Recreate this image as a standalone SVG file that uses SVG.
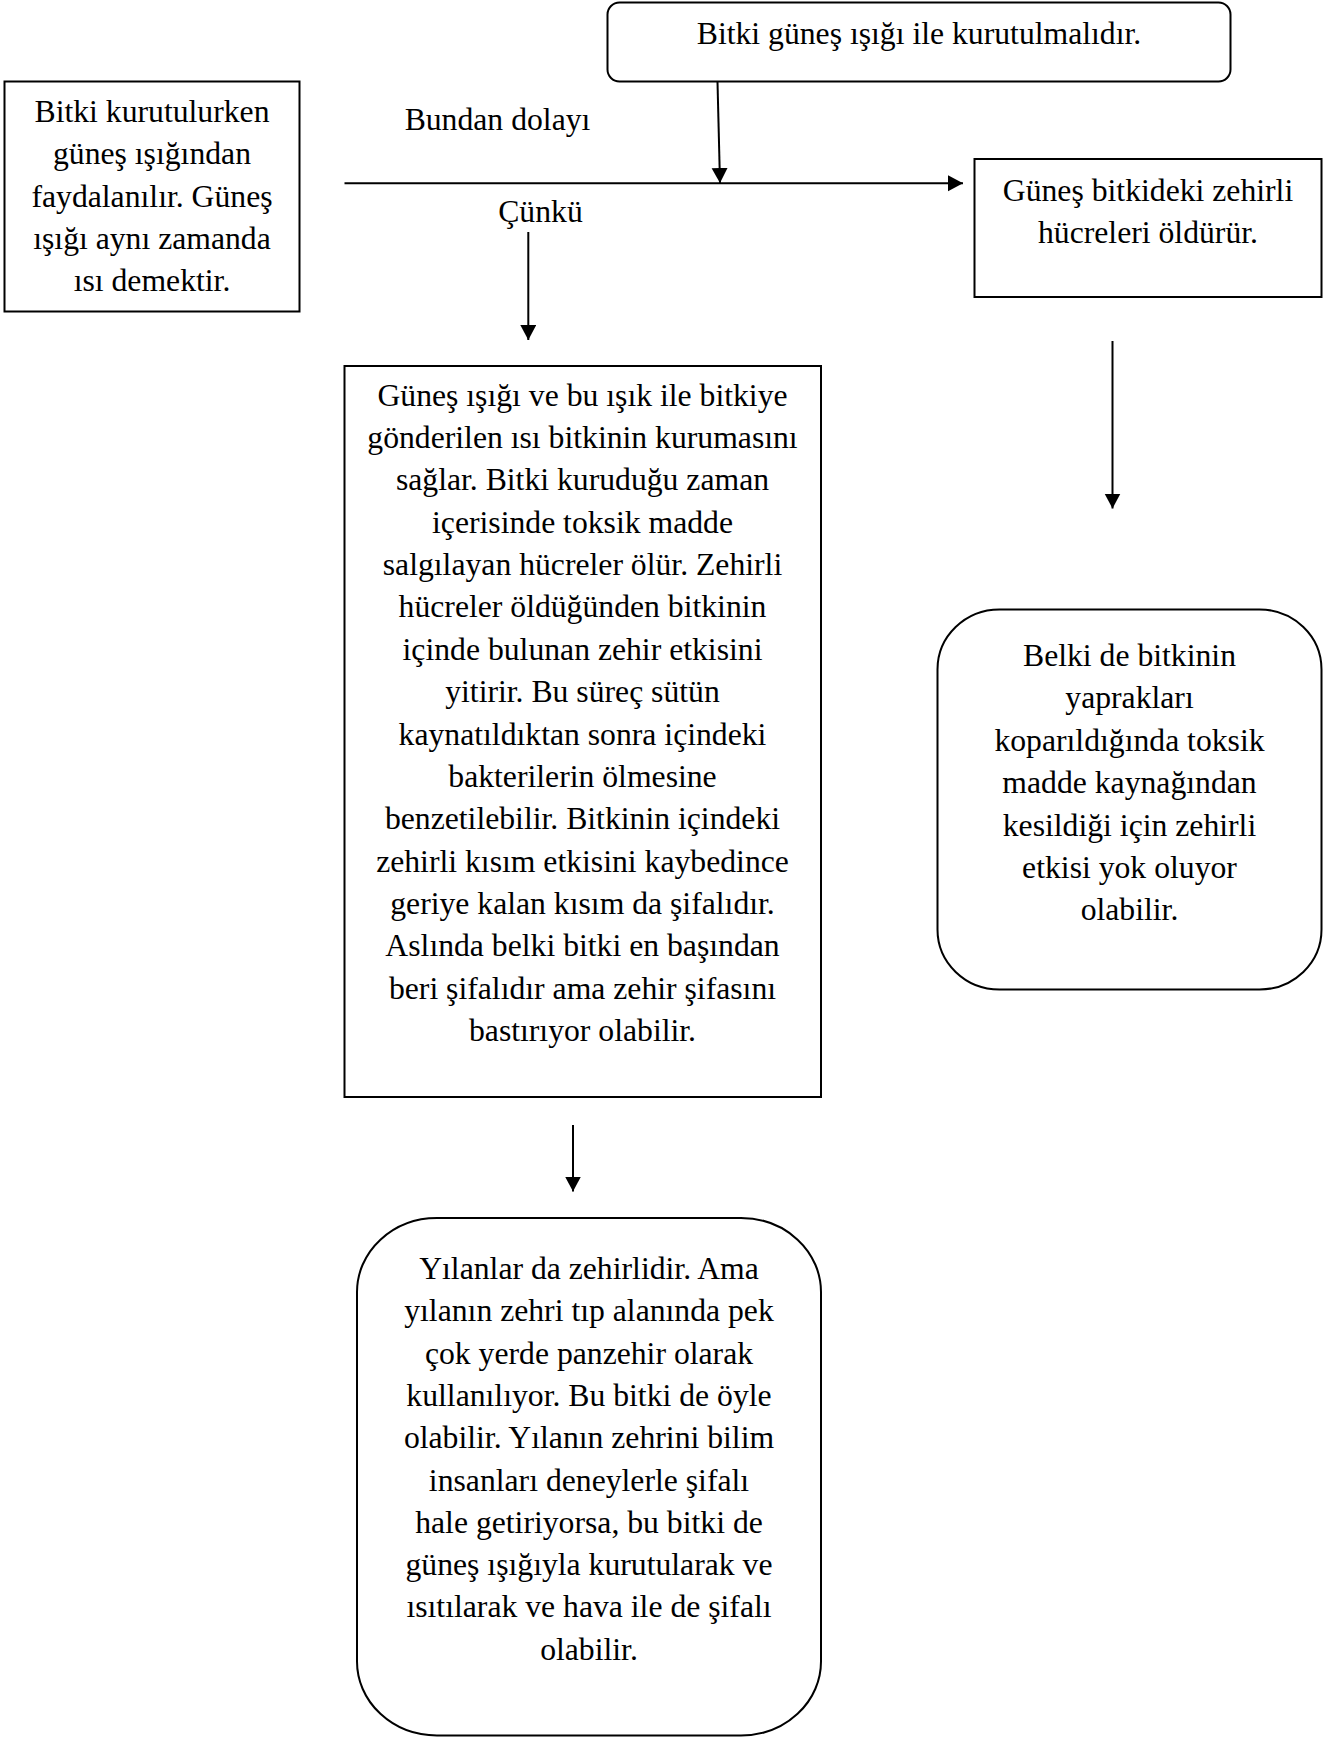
<svg xmlns="http://www.w3.org/2000/svg" width="1337" height="1737" viewBox="0 0 1337 1737">
  <style>
    .box { fill: #ffffff; stroke: #000000; stroke-width: 2; }
    .edge { fill: none; stroke: #000000; stroke-width: 2; }
    text { font-family: "Liberation Serif", "Times New Roman", serif; font-size: 31.7px; fill: #000000; text-anchor: middle; }
  </style>
  <defs>
    <marker id="arrow" markerUnits="userSpaceOnUse" markerWidth="17" markerHeight="17" refX="15" refY="8" orient="auto">
      <path d="M0,0 L15,8 L0,16 Z" fill="#000000"/>
    </marker>
  </defs>
  <rect width="1337" height="1737" fill="#ffffff"/>

  <!-- connectors -->
  <g id="connectors">
    <line class="edge" x1="344.5" y1="183.3" x2="963" y2="183.3" marker-end="url(#arrow)"/>
    <line class="edge" x1="717.5" y1="82" x2="720" y2="183" marker-end="url(#arrow)"/>
    <line class="edge" x1="528.3" y1="232" x2="528.3" y2="340" marker-end="url(#arrow)"/>
    <line class="edge" x1="1112.5" y1="341" x2="1112.5" y2="508.5" marker-end="url(#arrow)"/>
    <line class="edge" x1="573" y1="1125" x2="573" y2="1191.5" marker-end="url(#arrow)"/>
  </g>

  <!-- edge labels -->
  <g id="labels">
    <text x="497.5" y="130">Bundan dolayı</text>
    <text x="540.5" y="222">Çünkü</text>
  </g>

  <!-- left box: premise -->
  <g id="node-premise">
    <rect class="box" x="4.5" y="81.5" width="295" height="230"/>
    <text x="152" y="122">Bitki kurutulurken</text>
    <text x="152" y="164.3">güneş ışığından</text>
    <text x="152" y="206.6">faydalanılır. Güneş</text>
    <text x="152" y="248.9">ışığı aynı zamanda</text>
    <text x="152" y="291.2">ısı demektir.</text>
  </g>

  <!-- top box: conclusion -->
  <g id="node-conclusion">
    <rect class="box" x="607.5" y="2.5" width="623" height="79" rx="12" ry="12"/>
    <text x="919" y="43.5">Bitki güneş ışığı ile kurutulmalıdır.</text>
  </g>

  <!-- right box: effect -->
  <g id="node-effect">
    <rect class="box" x="974.5" y="159" width="347" height="138"/>
    <text x="1148" y="200.5">Güneş bitkideki zehirli</text>
    <text x="1148" y="242.8">hücreleri öldürür.</text>
  </g>

  <!-- middle box: reason -->
  <g id="node-reason">
    <rect class="box" x="344.5" y="366" width="476.5" height="731"/>
    <text x="582.5" y="405.7">Güneş ışığı ve bu ışık ile bitkiye</text>
    <text x="582.5" y="448.05">gönderilen ısı bitkinin kurumasını</text>
    <text x="582.5" y="490.4">sağlar. Bitki kuruduğu zaman</text>
    <text x="582.5" y="532.75">içerisinde toksik madde</text>
    <text x="582.5" y="575.1">salgılayan hücreler ölür. Zehirli</text>
    <text x="582.5" y="617.45">hücreler öldüğünden bitkinin</text>
    <text x="582.5" y="659.8">içinde bulunan zehir etkisini</text>
    <text x="582.5" y="702.15">yitirir. Bu süreç sütün</text>
    <text x="582.5" y="744.5">kaynatıldıktan sonra içindeki</text>
    <text x="582.5" y="786.85">bakterilerin ölmesine</text>
    <text x="582.5" y="829.2">benzetilebilir. Bitkinin içindeki</text>
    <text x="582.5" y="871.55">zehirli kısım etkisini kaybedince</text>
    <text x="582.5" y="913.9">geriye kalan kısım da şifalıdır.</text>
    <text x="582.5" y="956.25">Aslında belki bitki en başından</text>
    <text x="582.5" y="998.6">beri şifalıdır ama zehir şifasını</text>
    <text x="582.5" y="1040.95">bastırıyor olabilir.</text>
  </g>

  <!-- right rounded box: alternative idea -->
  <g id="node-alternative">
    <rect class="box" x="937.5" y="609.5" width="384" height="380" rx="62" ry="60"/>
    <text x="1129.5" y="666">Belki de bitkinin</text>
    <text x="1129.5" y="708.4">yaprakları</text>
    <text x="1129.5" y="750.8">koparıldığında toksik</text>
    <text x="1129.5" y="793.2">madde kaynağından</text>
    <text x="1129.5" y="835.6">kesildiği için zehirli</text>
    <text x="1129.5" y="878">etkisi yok oluyor</text>
    <text x="1129.5" y="920.4">olabilir.</text>
  </g>

  <!-- bottom rounded box: analogy -->
  <g id="node-analogy">
    <rect class="box" x="357" y="1218" width="464" height="517.5" rx="80" ry="74"/>
    <text x="589" y="1279">Yılanlar da zehirlidir. Ama</text>
    <text x="589" y="1321.3">yılanın zehri tıp alanında pek</text>
    <text x="589" y="1363.6">çok yerde panzehir olarak</text>
    <text x="589" y="1405.9">kullanılıyor. Bu bitki de öyle</text>
    <text x="589" y="1448.2">olabilir. Yılanın zehrini bilim</text>
    <text x="589" y="1490.5">insanları deneylerle şifalı</text>
    <text x="589" y="1532.8">hale getiriyorsa, bu bitki de</text>
    <text x="589" y="1575.1">güneş ışığıyla kurutularak ve</text>
    <text x="589" y="1617.4">ısıtılarak ve hava ile de şifalı</text>
    <text x="589" y="1659.7">olabilir.</text>
  </g>
</svg>
